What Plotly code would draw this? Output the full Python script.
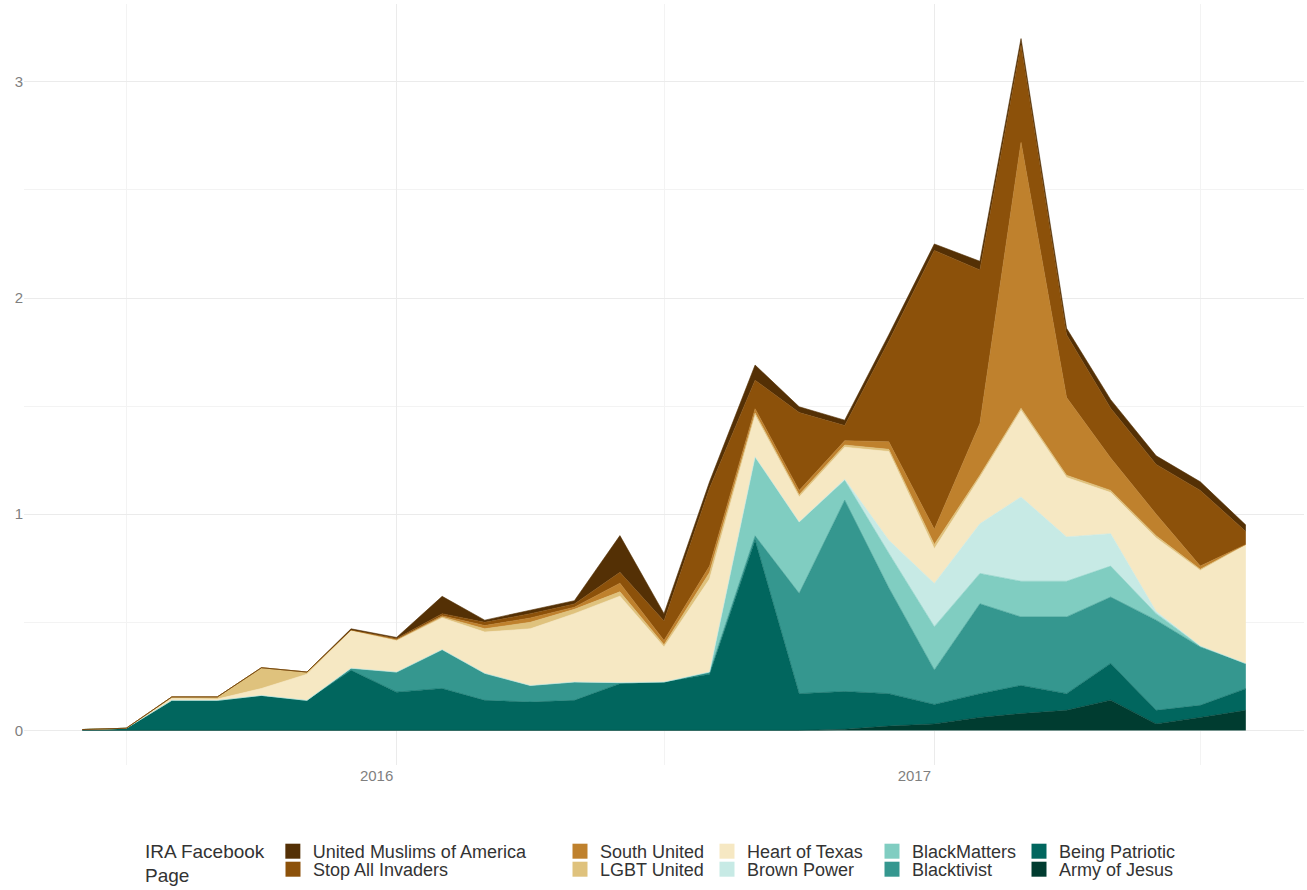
import pandas as pd
import plotly.graph_objects as go

months = ["2015-06-01", "2015-07-01", "2015-08-01", "2015-09-01", "2015-10-01", "2015-11-01",
          "2015-12-01", "2016-01-01", "2016-02-01", "2016-03-01", "2016-04-01", "2016-05-01",
          "2016-06-01", "2016-07-01", "2016-08-01", "2016-09-01", "2016-10-01", "2016-11-01",
          "2016-12-01", "2017-01-01", "2017-02-01", "2017-03-01", "2017-04-01", "2017-05-01",
          "2017-06-01", "2017-07-01", "2017-08-01"]

army_of_jesus = [0, 0, 0, 0, 0, 0, 0, 0, 0, 0, 0, 0, 0, 0, 0, 0, 0, 0.005, 0.02, 0.03,
                 0.06, 0.078, 0.093, 0.14, 0.03, 0.06, 0.093]
being_patriotic = [0.004, 0.01, 0.139, 0.139, 0.162, 0.139, 0.278, 0.177, 0.194, 0.139,
                   0.131, 0.139, 0.216, 0.224, 0.26, 0.88, 0.17, 0.175, 0.15, 0.09,
                   0.11, 0.13, 0.077, 0.17, 0.063, 0.056, 0.10]
blacktivist = [0, 0, 0, 0, 0, 0, 0.01, 0.093, 0.18, 0.125, 0.077, 0.085, 0.005, 0, 0.01,
               0.02, 0.464, 0.885, 0.49, 0.16, 0.416, 0.317, 0.355, 0.307, 0.417, 0.27, 0.116]
blackmatters = [0, 0, 0, 0, 0, 0, 0, 0, 0, 0, 0, 0, 0, 0, 0, 0.365, 0.33, 0.092, 0.16,
                0.20, 0.14, 0.165, 0.165, 0.143, 0.03, 0.005, 0]
brown_power = [0, 0, 0, 0, 0, 0, 0, 0, 0, 0, 0, 0, 0, 0, 0, 0, 0, 0.005, 0.06, 0.20,
               0.23, 0.39, 0.205, 0.15, 0.01, 0, 0]
heart_of_texas = [0, 0, 0.009, 0.006, 0.032, 0.121, 0.172, 0.145, 0.146, 0.191, 0.262,
                  0.316, 0.40, 0.162, 0.43, 0.193, 0.116, 0.148, 0.41, 0.16, 0.214, 0.40,
                  0.275, 0.19, 0.34, 0.349, 0.551]
lgbt_united = [0, 0, 0.007, 0.01, 0.096, 0.01, 0.005, 0.005, 0.005, 0.015, 0.03, 0.02,
               0.02, 0.01, 0.03, 0.01, 0.01, 0.01, 0.01, 0.02, 0.01, 0.01, 0.01, 0.01,
               0.01, 0.005, 0]
south_united = [0, 0, 0, 0, 0, 0, 0, 0, 0.005, 0.015, 0.02, 0.01, 0.04, 0.02, 0.03, 0.02,
                0.02, 0.02, 0.035, 0.07, 0.24, 1.23, 0.36, 0.15, 0.10, 0.015, 0]
stop_all_invaders = [0, 0, 0, 0, 0, 0, 0, 0.005, 0.01, 0.015, 0.02, 0.015, 0.05, 0.09,
                     0.36, 0.132, 0.36, 0.07, 0.465, 1.29, 0.71, 0.45, 0.29, 0.23, 0.23,
                     0.35, 0.06]
united_muslims = [0, 0, 0, 0, 0, 0, 0.005, 0.005, 0.08, 0.01, 0.016, 0.015, 0.17, 0.034,
                  0.03, 0.07, 0.027, 0.025, 0.03, 0.03, 0.04, 0.03, 0.03, 0.04, 0.04, 0.04,
                  0.03]

# stacking order: bottom -> top ; legend id for each page
series = [
    ("Army of Jesus", army_of_jesus, "#003C30", "legend10"),
    ("Being Patriotic", being_patriotic, "#01665E", "legend5"),
    ("Blacktivist", blacktivist, "#35978F", "legend9"),
    ("BlackMatters", blackmatters, "#80CDC1", "legend4"),
    ("Brown Power", brown_power, "#C7EAE5", "legend8"),
    ("Heart of Texas", heart_of_texas, "#F6E8C3", "legend3"),
    ("LGBT United", lgbt_united, "#DFC27D", "legend7"),
    ("South United", south_united, "#BF812D", "legend2"),
    ("Stop All Invaders", stop_all_invaders, "#8C510A", "legend6"),
    ("United Muslims of America", united_muslims, "#543005", "legend"),
]

x = pd.to_datetime(months)
fig = go.Figure()
for name, vals, color, leg in series:
    fig.add_trace(go.Scatter(
        x=x, y=vals, name=name, mode="lines", stackgroup="one",
        line=dict(width=0.6, color=color), fillcolor=color,
        showlegend=False, legendgroup=name,
    ))
# legend keys (filled squares, like ggplot's fill keys)
for name, vals, color, leg in series:
    fig.add_trace(go.Scatter(
        x=[None], y=[None], name=name, mode="markers", legend=leg, legendgroup=name,
        marker=dict(symbol="square", size=15, color=color), showlegend=True,
    ))

# ggplot-like 5% expansion of scales
span = x.max() - x.min()
xr = [x.min() - span * 0.05, x.max() + span * 0.05]
totals = [sum(v) for v in zip(*[s[1] for s in series])]
ymax = max(totals)
yr = [-0.05 * ymax, ymax * 1.05]

FONT = "Liberation Sans, Arial, Helvetica, sans-serif"
L, R, T, B = 24, 3, 4, 125
W, H = 1307, 890
pw, ph = W - L - R, H - T - B


def px_x(p):
    return (p - L) / pw


def px_y(p):
    return (H - B - p) / ph


leg_font = dict(family=FONT, size=18, color="#333333")
leg_common = dict(orientation="v", font=leg_font, bgcolor="rgba(0,0,0,0)", borderwidth=0,
                  tracegroupgap=0, yanchor="top", xanchor="left", itemwidth=30)
row1 = px_y(833)
row2 = px_y(851)
col_x = [273, 560, 707, 872, 1019]

legends = {}
legends["legend"] = dict(x=px_x(143), y=row1,
                         title=dict(text="IRA Facebook<br>Page", side="left",
                                    font=dict(family=FONT, size=19, color="#333333")),
                         **leg_common)
for i, cx in enumerate(col_x[1:], start=2):
    legends["legend%d" % i] = dict(x=px_x(cx), y=row1, **leg_common)
for i, cx in enumerate(col_x, start=6):
    legends["legend%d" % i] = dict(x=px_x(cx), y=row2, **leg_common)

fig.update_layout(
    width=W, height=H,
    margin=dict(l=L, r=R, t=T, b=B, autoexpand=False),
    plot_bgcolor="white", paper_bgcolor="white",
    font=dict(family=FONT),
    showlegend=True,
    xaxis=dict(type="date", range=xr, showgrid=True, gridcolor="#EBEBEB", gridwidth=1.2,
               dtick="M12", tick0="2016-01-01", tickformat="%Y", ticks="",
               showline=False, zeroline=False, ticklabelshift=-20,
               tickfont=dict(family=FONT, size=15, color="#7F7F7F"),
               minor=dict(dtick="M6", tick0="2016-01-01", showgrid=True,
                          gridcolor="#F3F3F3", gridwidth=0.8)),
    yaxis=dict(range=yr, dtick=1, tick0=0, showgrid=True, gridcolor="#EBEBEB",
               gridwidth=1.2, zeroline=False, showline=False, ticks="",
               tickfont=dict(family=FONT, size=15, color="#7F7F7F"),
               minor=dict(dtick=0.5, showgrid=True, gridcolor="#F3F3F3", gridwidth=0.8)),
    **legends,
)

fig.write_html("out.html", config={"displayModeBar": False},
               post_script="document.body.style.margin='0px';document.body.style.overflow='hidden';")
